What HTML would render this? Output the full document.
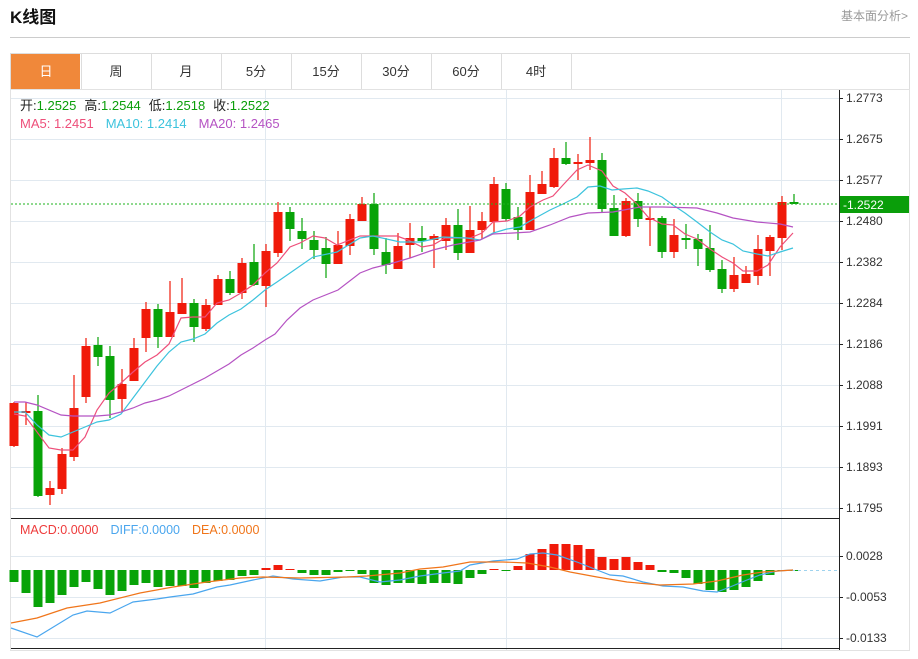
<!DOCTYPE html>
<html><head><meta charset="utf-8"><style>
body{margin:0;background:#fff;width:918px;height:654px;overflow:hidden;font-family:"Liberation Sans","Noto Sans CJK SC",sans-serif;}
svg text{font-family:"Liberation Sans","Noto Sans CJK SC",sans-serif;}
</style></head><body>
<svg id="s" width="918" height="654" xmlns="http://www.w3.org/2000/svg">
<text x="10" y="23" font-size="17" font-weight="bold" fill="#111">K线图</text>
<text x="908" y="20" font-size="12" fill="#999" text-anchor="end">基本面分析&gt;</text>
<line x1="10" y1="37.5" x2="910" y2="37.5" stroke="#ccc"/>
<rect x="10.5" y="53.5" width="899" height="36" fill="#fff" stroke="#ddd"/>
<rect x="11" y="54" width="69" height="35" fill="#f0883a"/>
<g id="tabs" font-size="13" fill="#333" text-anchor="middle"></g>
<rect x="10.5" y="89.5" width="899" height="561" fill="none" stroke="#e2e2e2"/>
<g id="grid" stroke="#e1e9f0" stroke-width="1"></g>
<g id="c"></g>
<line x1="839.5" y1="90" x2="839.5" y2="650" stroke="#222"/>
<line x1="11" y1="518.5" x2="839" y2="518.5" stroke="#222"/>
<line x1="11" y1="648.5" x2="839" y2="648.5" stroke="#222"/>
<line x1="11" y1="204" x2="839" y2="204" stroke="#1db31d" stroke-dasharray="2,2"/>
<rect x="840" y="196" width="69" height="17" fill="#0a9e0a"/>
<text x="843" y="209" font-size="12" fill="#fff">-1.2522</text>
<g id="yl" font-size="12" fill="#333"></g>
<text x="20" y="110" font-size="13"><tspan fill="#222">开:</tspan><tspan fill="#0a9e0a">1.2525</tspan><tspan fill="#222" dx="8">高:</tspan><tspan fill="#0a9e0a">1.2544</tspan><tspan fill="#222" dx="8">低:</tspan><tspan fill="#0a9e0a">1.2518</tspan><tspan fill="#222" dx="8">收:</tspan><tspan fill="#0a9e0a">1.2522</tspan></text>
<text x="20" y="128" font-size="13"><tspan fill="#ee4f7a">MA5: 1.2451</tspan><tspan fill="#3cc3dd" dx="12">MA10: 1.2414</tspan><tspan fill="#b553c3" dx="12">MA20: 1.2465</tspan></text>
<text x="20" y="534" font-size="12.5"><tspan fill="#ee3b3b">MACD:0.0000</tspan><tspan fill="#4aa6ee" dx="12">DIFF:0.0000</tspan><tspan fill="#f0751a" dx="12">DEA:0.0000</tspan></text>
</svg>
<script>
const NS="http://www.w3.org/2000/svg";
function el(p,t,a){const e=document.createElementNS(NS,t);for(const k in a)e.setAttribute(k,a[k]);p.appendChild(e);return e;}
const tabs=document.getElementById('tabs');
["日","周","月","5分","15分","30分","60分","4时"].forEach((t,i)=>{
 const x=11+i*70;
 if(i>0)el(tabs,'line',{x1:x+0.5,y1:54,x2:x+0.5,y2:89,stroke:'#ddd'});
 const tx=el(tabs,'text',{x:x+35,y:76});tx.textContent=t; if(i==0)tx.setAttribute('fill','#fff');
});
el(tabs,'line',{x1:571.5,y1:54,x2:571.5,y2:89,stroke:'#ddd'});
const g=document.getElementById('grid');
for(let i=0;i<11;i++){const y=98+i*41;el(g,'line',{x1:11,y1:y+.5,x2:839,y2:y+.5});}
[556,597,638].forEach(y=>el(g,'line',{x1:11,y1:y+.5,x2:839,y2:y+.5}));
[265,506,781].forEach(x=>el(g,'line',{x1:x+.5,y1:90,x2:x+.5,y2:650}));
const yl=document.getElementById('yl');
["1.2773","1.2675","1.2577","1.2480","1.2382","1.2284","1.2186","1.2088","1.1991","1.1893","1.1795"].forEach((t,i)=>{
 const y=98+i*41;el(yl,'line',{x1:839,y1:y+.5,x2:843,y2:y+.5,stroke:'#222'});
 const tx=el(yl,'text',{x:846,y:y+4});tx.textContent=t;});
[["0.0028",556],["-0.0053",597],["-0.0133",638]].forEach(([t,y])=>{
 el(yl,'line',{x1:839,y1:y+.5,x2:843,y2:y+.5,stroke:'#222'});const tx=el(yl,'text',{x:846,y:y+4});tx.textContent=t;});
const C=[[403,446,402,447,1],[411,413,402,425,1],[411,496,395,497,0],[488,495,481,505,1],[454,489,448,494,1],[408,457,375,461,1],[346,397,338,403,1],[345,357,337,366,0],[356,400,346,418,0],[384,399,369,411,1],[348,381,338,381,1],[309,338,302,352,1],[309,337,304,348,0],[312,337,281,337,1],[303,314,278,314,1],[303,327,299,342,0],[305,329,299,331,1],[279,305,275,305,1],[279,293,271,295,0],[263,293,258,299,1],[262,285,244,286,0],[251,286,244,307,1],[212,253,202,257,1],[212,229,207,241,0],[231,239,218,249,0],[240,250,231,259,0],[248,264,237,278,0],[245,264,231,264,1],[219,246,214,255,1],[204,221,197,221,1],[204,249,193,255,0],[252,265,238,274,0],[246,269,233,269,1],[238,245,223,258,1],[238,241,226,252,0],[236,240,234,268,1],[225,241,218,250,1],[225,253,209,260,0],[230,253,206,253,1],[221,230,212,239,1],[184,222,177,233,1],[189,219,183,221,0],[217,230,207,240,0],[192,230,175,230,1],[184,194,171,194,1],[158,187,148,188,1],[158,164,142,165,0],[162,164,154,180,1],[160,163,137,170,1],[160,209,153,213,0],[208,236,195,236,0],[201,236,198,237,1],[201,219,193,227,0],[218,220,207,246,1],[218,252,216,258,0],[235,252,219,258,1],[238,240,224,249,0],[239,249,234,266,0],[248,270,225,272,0],[269,289,260,293,0],[275,289,257,292,1],[274,283,266,283,1],[249,276,235,285,1],[237,251,235,276,1],[202,238,196,250,1],[202,204,194,204,0]];
const R="#f01a0a",G="#08a308";
const c=document.getElementById('c');
const X=i=>14+i*12;
C.forEach((d,i)=>{const x=X(i),col=d[4]?R:G;
 el(c,'line',{x1:x,y1:d[2],x2:x,y2:d[3],stroke:col,'stroke-width':1.2});
 el(c,'rect',{x:x-4.5,y:d[0],width:9,height:Math.max(1.5,d[1]-d[0]),fill:col});});
const H=[582,593,607,603,595,587,582,589,595,591,585,583,587,586,586,588,583,581,580,576,575,568,565,569,573,575,575,572,571,574,583,585,583,583,584,583,583,584,578,574,569,571,566,554,549,544,544,545,549,557,559,557,562,565,572,573,578,584,590,592,590,587,581,575,570,570];
H.forEach((v,i)=>{const x=X(i);const up=v<570;
 el(c,'rect',{x:x-4.5,y:Math.min(v,570),width:9,height:Math.max(1,Math.abs(v-570)),fill:up?R:G});});
el(c,'line',{x1:780,y1:570.5,x2:837,y2:570.5,stroke:'#9fd3ee','stroke-dasharray':'3,3'});
function pl(pts,col){el(c,'polyline',{points:pts.map(p=>p.join(',')).join(' '),fill:'none',stroke:col,'stroke-width':1.2});}
pl([[14,414],[25,416],[49,448],[61,450],[73,450],[85,437],[97,410],[109,393],[121,383],[133,372],[145,362],[157,355],[169,344],[181,318],[193,317],[205,317],[217,303],[229,300],[241,293],[253,285],[265,273],[277,263],[290,247],[300,243],[313,236],[325,238],[337,245],[360,236],[373,236],[397,236],[408,240],[422,247],[433,245],[445,238],[470,238],[482,233],[493,222],[507,221],[520,216],[530,207],[543,200],[553,196],[563,185],[577,170],[588,165],[602,171],[613,186],[625,193],[637,204],[648,217],[662,224],[673,225],[685,234],[697,239],[710,249],[722,257],[733,263],[743,271],[757,271],[768,265],[780,247],[793,233]],'#ee4f7a');
pl([[14,412],[25,412],[37,425],[49,435],[61,437],[73,432],[85,427],[97,422],[109,420],[121,414],[133,398],[145,382],[157,366],[169,352],[181,342],[193,339],[205,334],[217,323],[229,315],[241,309],[253,300],[265,290],[277,282],[290,273],[313,257],[337,252],[360,238],[373,236],[400,242],[420,242],[443,237],[467,238],[480,240],[493,233],[507,229],[520,227],[530,221],[550,210],[563,204],[577,197],[588,187],[600,186],[612,190],[623,189],[637,188],[648,191],[662,197],[673,205],[685,213],[697,222],[710,232],[722,240],[733,244],[743,251],[757,254],[768,256],[780,252],[793,248]],'#3cc3dd');
pl([[14,402],[25,402],[37,405],[61,415],[73,416],[97,416],[109,415],[121,412],[133,408],[145,403],[157,400],[169,396],[181,390],[193,384],[205,378],[217,371],[229,364],[241,355],[253,348],[265,340],[275,334],[287,320],[300,308],[313,300],[338,290],[360,273],[373,268],[393,263],[410,258],[433,250],[453,245],[480,240],[493,234],[513,233],[530,232],[550,225],[570,217],[588,213],[613,212],[640,207],[663,207],[697,208],[717,213],[733,218],[757,222],[780,224],[793,227]],'#b553c3');
pl([[11,628],[37,637],[73,615],[87,611],[110,613],[133,602],[157,599],[170,597],[193,594],[217,587],[230,585],[253,580],[273,576],[293,579],[320,581],[343,577],[360,577],[380,582],[400,580],[420,576],[443,573],[460,571],[470,565],[493,561],[517,559],[530,554],[543,553],[557,555],[577,562],[597,570],[610,575],[623,576],[643,582],[663,586],[683,587],[703,591],[717,592],[730,587],[747,580],[760,575],[777,571],[793,570]],'#4aa6ee');
pl([[11,623],[37,618],[67,608],[100,603],[140,593],[173,587],[207,582],[240,578],[263,577],[300,578],[347,577],[367,576],[400,573],[420,569],[443,567],[470,562],[503,562],[527,563],[550,567],[570,572],[597,577],[627,582],[660,585],[693,584],[717,581],[743,575],[763,572],[793,570]],'#f0751a');
</script>
</body></html>
